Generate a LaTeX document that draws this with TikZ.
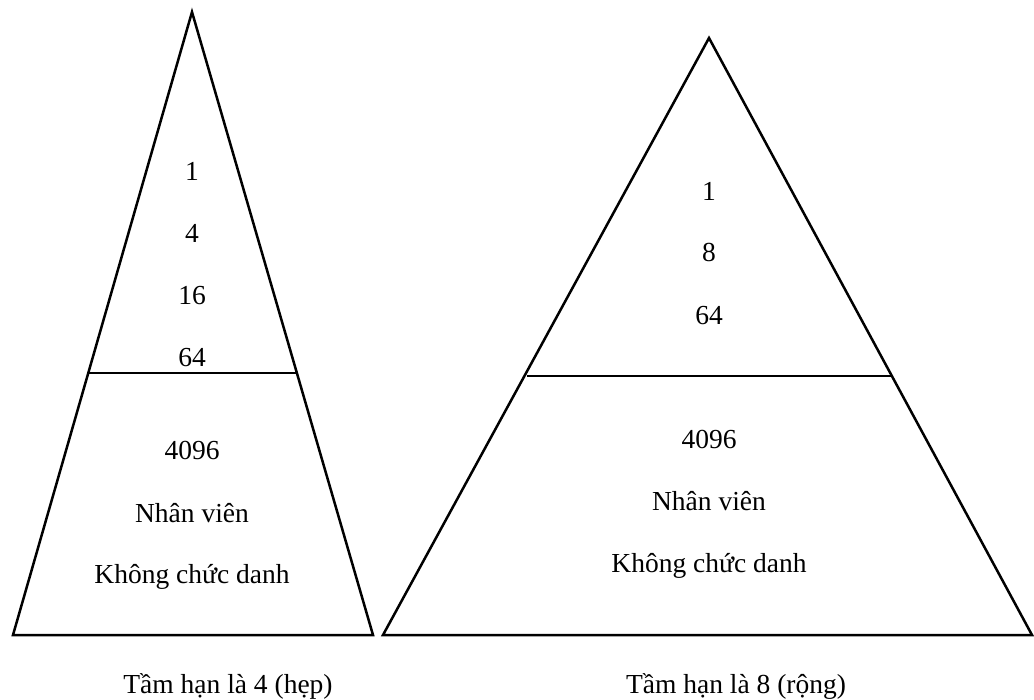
\documentclass[tikz,border=0pt]{standalone}
\usepackage{fontspec}
\setmainfont{Liberation Serif}
\begin{document}
\begin{tikzpicture}[x=1pt,y=-1pt,
        edge/.style={line width=2.5pt, line join=miter},
        txt/.style={anchor=base, inner sep=0pt, font=\fontsize{27.5}{33}\selectfont}]
        \useasboundingbox (0,0) rectangle (1034,700);
        % narrow span
        \coordinate (topA) at (192,12);
        \coordinate (leftA) at (13,635);
        \coordinate (rightA) at (373,635);
        \coordinate (cutAl) at (88,373);
        \coordinate (cutAr) at (297,373);
        \draw[edge] (topA) -- (leftA) -- (rightA) -- cycle;
        \node[txt] (a1) at (192,181) {1};
        \node[txt] (a4) at (192,243) {4};
        \node[txt] (a16) at (192,305) {16};
        \node[txt] (a64) at (192,367) {64};
        \draw[edge] (cutAl) -- (cutAr);
        \node[txt] (aall) at (192,460) {4096};
        \node[txt] (astaff) at (192,522) {Nhân viên};
        \node[txt] (anotitle) at (192,583) {Không chức danh};
        \node[txt] (acap) at (228,693) {Tầm hạn là 4 (hẹp)};
        % wide span
        \coordinate (topB) at (709,38);
        \coordinate (leftB) at (383,635);
        \coordinate (rightB) at (1032,635);
        \coordinate (cutBl) at (527,376);
        \coordinate (cutBr) at (891,376);
        \draw[edge] (topB) -- (leftB) -- (rightB) -- cycle;
        \draw[edge] (cutBl) -- (cutBr);
        \node[txt] (b1) at (709,201) {1};
        \node[txt] (b8) at (709,262) {8};
        \node[txt] (b64) at (709,325) {64};
        \node[txt] (ball) at (709,449) {4096};
        \node[txt] (bstaff) at (709,511) {Nhân viên};
        \node[txt] (bnotitle) at (709,572) {Không chức danh};
        \node[txt] (bcap) at (736,693) {Tầm hạn là 8 (rộng)};
    \end{tikzpicture}
\end{document}
